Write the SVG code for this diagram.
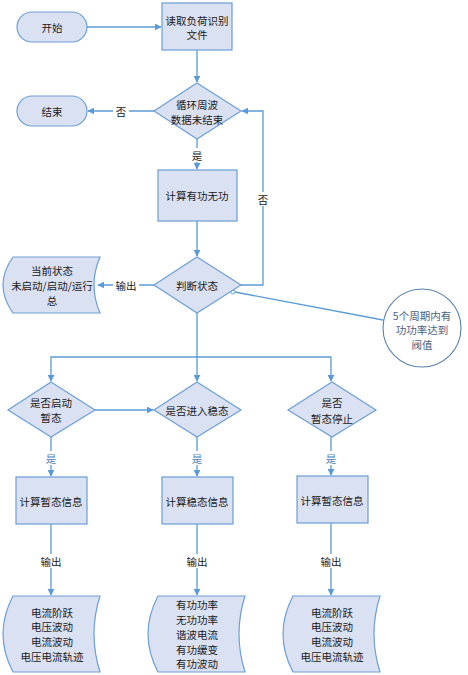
<svg xmlns="http://www.w3.org/2000/svg" width="468" height="675" viewBox="0 0 468 675">
<defs>
<marker id="arr" viewBox="0 0 10 10" refX="9" refY="5" markerWidth="7" markerHeight="7" orient="auto" markerUnits="userSpaceOnUse">
<path d="M0,0 L10,5 L0,10 Z" fill="#5b9bd5"/>
</marker>
<style>
.n{fill:#dae1f3;stroke:#6c9fd6;stroke-width:1.2}
.t{font-family:"Noto Sans CJK SC","Noto Sans",sans-serif;font-size:10.5px;fill:#1a1a1a;text-anchor:middle;dominant-baseline:central}
.c{fill:none;stroke:#5b9bd5;stroke-width:1.3}
.ca{fill:none;stroke:#5b9bd5;stroke-width:1.3;marker-end:url(#arr)}
.lb{font-family:"Noto Sans CJK SC","Noto Sans",sans-serif;font-size:10.5px;fill:#1a1a1a;text-anchor:middle;dominant-baseline:central}
.lbb{font-family:"Noto Sans CJK SC","Noto Sans",sans-serif;font-size:10.5px;fill:#4a80c0;text-anchor:middle;dominant-baseline:central}
.bg{fill:#ffffff}
</style>
</defs>
<rect width="468" height="675" fill="#ffffff"/>

<g id="connectors">
<path class="ca" d="M87,27 H161"/>
<path class="ca" d="M197,50 V82"/>
<path class="ca" d="M154,111 H88"/>
<path class="ca" d="M197,139 V169"/>
<path class="ca" d="M197,221 V256"/>
<path class="ca" d="M241,285 H263 V111 H242"/>
<path class="ca" d="M154,285 H98"/>
<path class="ca" d="M197,313 V381"/>
<path class="ca" d="M197,357 H51 V381"/>
<path class="ca" d="M197,357 H331 V381"/>
<path class="ca" d="M95,410 H153"/>
<path class="ca" d="M51,437 V476"/>
<path class="ca" d="M197,437 V476"/>
<path class="ca" d="M331,437 V475"/>
<path class="ca" d="M51,524 V595"/>
<path class="ca" d="M197,524 V595"/>
<path class="ca" d="M331,523 V595"/>
<path class="c" d="M383,320 L235,292" stroke-width="1"/>
<circle cx="233" cy="292" r="2" fill="#ffffff" stroke="#5b9bd5" stroke-width="0.9"/>
<rect class="bg" x="113" y="104" width="16" height="14"/>
<text class="lb" x="121" y="111">否</text>
<rect class="bg" x="190" y="148" width="14" height="14"/>
<text class="lb" x="197" y="155">是</text>
<rect class="bg" x="256" y="192" width="14" height="14"/>
<text class="lb" x="263" y="199">否</text>
<rect class="bg" x="113" y="278" width="26" height="14"/>
<text class="lb" x="126" y="285">输出</text>
<rect class="bg" x="44" y="451" width="14" height="14"/>
<text class="lbb" x="51" y="458">是</text>
<rect class="bg" x="190" y="451" width="14" height="14"/>
<text class="lbb" x="197" y="458">是</text>
<rect class="bg" x="324" y="451" width="14" height="14"/>
<text class="lbb" x="331" y="458">是</text>
<rect class="bg" x="38" y="554" width="26" height="14"/>
<text class="lb" x="51" y="561">输出</text>
<rect class="bg" x="184" y="554" width="26" height="14"/>
<text class="lb" x="197" y="561">输出</text>
<rect class="bg" x="318" y="554" width="26" height="14"/>
<text class="lb" x="331" y="561">输出</text>
</g>

<g id="start">
<rect class="n" x="17" y="12" width="70" height="30" rx="15"/>
<text class="t" x="52" y="27">开始</text>
</g>
<g id="read">
<rect class="n" x="162" y="3" width="70" height="47"/>
<text class="t" x="197" y="20">读取负荷识别</text>
<text class="t" x="197" y="34">文件</text>
</g>
<g id="loop">
<path class="n" d="M197,83 L241,111 L197,139 L154,111 Z"/>
<text class="t" x="197" y="104">循环周波</text>
<text class="t" x="197" y="119">数据未结束</text>
</g>
<g id="end">
<rect class="n" x="17" y="96" width="70" height="30" rx="15"/>
<text class="t" x="52" y="111">结束</text>
</g>
<g id="calcPQ">
<rect class="n" x="158" y="170" width="79" height="51"/>
<text class="t" x="197" y="195">计算有功无功</text>
</g>
<g id="judge">
<path class="n" d="M197,257 L241,285 L197,313 L154,285 Z"/>
<text class="t" x="197" y="285">判断状态</text>
</g>
<g id="state">
<path class="n" d="M13,257 H100 Q88,285 100,313 H13 Q-7,285 13,257 Z"/>
<text class="t" x="52" y="270">当前状态</text>
<text class="t" x="52" y="285">未启动/启动/运行</text>
<text class="t" x="52" y="300">总</text>
</g>
<g id="note">
<circle cx="422" cy="328" r="39" fill="#ffffff" stroke="#5a82b0" stroke-width="1.1"/>
<text class="t" x="422" y="315" style="fill:#4a6282">5个周期内有</text>
<text class="t" x="422" y="329" style="fill:#4a6282">功功率达到</text>
<text class="t" x="422" y="344" style="fill:#4a6282">阀值</text>
</g>
<g id="d-start">
<path class="n" d="M51,382 L95,410 L51,437 L8,410 Z"/>
<text class="t" x="51" y="402">是否启动</text>
<text class="t" x="51" y="417">暂态</text>
</g>
<g id="d-steady">
<path class="n" d="M197,382 L241,410 L197,437 L154,410 Z"/>
<text class="t" x="197" y="410">是否进入稳态</text>
</g>
<g id="d-stop">
<path class="n" d="M332,382 L376,410 L332,437 L288,410 Z"/>
<text class="t" x="332" y="402">是否</text>
<text class="t" x="332" y="418">暂态停止</text>
</g>
<g id="calc1">
<rect class="n" x="16" y="477" width="71" height="47"/>
<text class="t" x="51" y="501">计算暂态信息</text>
</g>
<g id="calc2">
<rect class="n" x="162" y="477" width="71" height="47"/>
<text class="t" x="197" y="501">计算稳态信息</text>
</g>
<g id="calc3">
<rect class="n" x="297" y="476" width="71" height="47"/>
<text class="t" x="332" y="500">计算暂态信息</text>
</g>
<g id="out1">
<path class="n" d="M13,596 H100 Q88,634 100,672 H13 Q-7,634 13,596 Z"/>
<text class="t" x="52" y="612">电流阶跃</text>
<text class="t" x="52" y="626">电压波动</text>
<text class="t" x="52" y="641">电流波动</text>
<text class="t" x="52" y="656">电压电流轨迹</text>
</g>
<g id="out2">
<path class="n" d="M158,596 H245 Q233,634 245,672 H158 Q138,634 158,596 Z"/>
<text class="t" x="197" y="604">有功功率</text>
<text class="t" x="197" y="619">无功功率</text>
<text class="t" x="197" y="634">谐波电流</text>
<text class="t" x="197" y="649">有功缓变</text>
<text class="t" x="197" y="663">有功波动</text>
</g>
<g id="out3">
<path class="n" d="M293,596 H380 Q368,634 380,672 H293 Q273,634 293,596 Z"/>
<text class="t" x="332" y="612">电流阶跃</text>
<text class="t" x="332" y="626">电压波动</text>
<text class="t" x="332" y="641">电流波动</text>
<text class="t" x="332" y="656">电压电流轨迹</text>
</g>
</svg>
